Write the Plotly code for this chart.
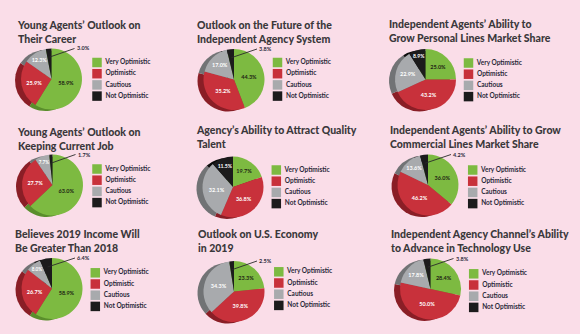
import math
import plotly.graph_objects as go

W, H = 580, 334

# ---------------- data ----------------
categories = ["Very Optimistic", "Optimistic", "Cautious", "Not Optimistic"]

titles = [
    "Young Agents’ Outlook on<br>Their Career",
    "Outlook on the Future of the<br>Independent Agency System",
    "Independent Agents’ Ability to<br>Grow Personal Lines Market Share",
    "Young Agents’ Outlook on<br>Keeping Current Job",
    "Agency’s Ability to Attract Quality<br>Talent",
    "Independent Agents’ Ability to Grow<br>Commercial Lines Market Share",
    "Believes 2019 Income Will<br>Be Greater Than 2018",
    "Outlook on U.S. Economy<br>in 2019",
    "Independent Agency Channel’s Ability<br>to Advance in Technology Use",
]

career = [58.9, 25.9, 12.3, 3.0]
future_system = [44.3, 35.2, 17.0, 3.8]
personal_lines = [25.0, 43.2, 22.9, 8.9]
keeping_job = [63.0, 27.7, 7.7, 1.7]
attract_talent = [19.7, 36.8, 32.1, 11.5]
commercial_lines = [36.0, 46.2, 13.6, 4.2]
income_2019 = [58.9, 26.7, 8.0, 6.4]
us_economy = [23.3, 39.8, 34.3, 2.5]
technology = [28.4, 50.0, 17.8, 3.8]

series = [career, future_system, personal_lines, keeping_job, attract_talent,
          commercial_lines, income_2019, us_economy, technology]

# ---------------- style / layout ----------------
BG = "#FADDE8"
colors = ["#7DBA41", "#C8313B", "#A8AAAD", "#1C1B1C"]
shade = ["#5A8E2C", "#8A1E26", "#717375", "#0C0C0C"]
label_colors = ["#1E2414", "white", "white", "white"]
TITLE_COLOR = "#3A383B"
TEXT_COLOR = "#2A2939"
FONT = "Lato"

R = 30.5          # pie radius (px)
SH_DX, SH_DY = -6, 1.5   # 3D side offset
SP = 11.2         # legend row spacing
SMALL = 7.0       # slices below this get an outside label with leader line

# title x, title top y, pie centre, legend square centre x, first-row centre y
panels = [
    dict(tx=15, ty=17, cx=51.5, cy=79, lx=97, ly=62.5),
    dict(tx=195, ty=17, cx=234, cy=79.5, lx=277.5, ly=62.5),
    dict(tx=387, ty=16, cx=425.5, cy=79.5, lx=468.5, ly=63),
    dict(tx=15, ty=124, cx=52.5, cy=185, lx=97, ly=169),
    dict(tx=194, ty=122, cx=233, cy=187, lx=276.3, ly=170),
    dict(tx=388, ty=122, cx=428, cy=185, lx=472.7, ly=170),
    dict(tx=13, ty=226, cx=52, cy=288.5, lx=95.3, ly=272.8),
    dict(tx=196, ty=226, cx=234, cy=291.5, lx=278.8, ly=271.8),
    dict(tx=389, ty=226, cx=430.5, cy=289, lx=473.7, ly=273.8),
]


def px_x(v):
    return v / W


def px_y(v):
    return 1 - v / H


fig = go.Figure()
annotations = []
layout_axes = {}

for i, (vals, title, p) in enumerate(zip(series, titles, panels)):
    cx, cy = p["cx"], p["cy"]

    # shadow (3D side)
    sx, sy = cx + SH_DX, cy + SH_DY
    fig.add_trace(go.Pie(
        values=vals, labels=categories, sort=False, direction="clockwise",
        marker=dict(colors=shade, line=dict(width=0)),
        textinfo="none", hoverinfo="skip", showlegend=False,
        domain=dict(x=[px_x(sx - R), px_x(sx + R)], y=[px_y(sy + R), px_y(sy - R)]),
    ))

    positions = ["inside" if v >= SMALL else "none" for v in vals]
    fig.add_trace(go.Pie(
        values=vals, labels=categories, sort=False, direction="clockwise",
        marker=dict(colors=colors, line=dict(width=0)),
        texttemplate="%{value:.1f}%", textposition=positions,
        insidetextorientation="horizontal",
        insidetextfont=dict(size=5.5, color=label_colors, family=FONT, weight="bold"),
        showlegend=False,
        domain=dict(x=[px_x(cx - R), px_x(cx + R)], y=[px_y(cy + R), px_y(cy - R)]),
    ))

    # outside labels with leader line for small slices
    total = sum(vals)
    cum = 0.0
    for v in vals:
        if v < SMALL:
            ang = math.radians((cum + v / 2) / total * 360)
            tipx = cx + 0.72 * R * math.sin(ang)
            tipy = cy - 0.72 * R * math.cos(ang)
            annotations.append(dict(
                x=px_x(tipx), y=px_y(tipy), xref="paper", yref="paper",
                text=f"{v:.1f}%", showarrow=True, arrowhead=0, arrowwidth=0.9,
                arrowcolor="#2A2A2A", ax=(cx + 23) - tipx, ay=(cy - 30.5) - tipy,
                xanchor="left", yanchor="middle", standoff=0,
                font=dict(size=5.5, color=TEXT_COLOR, family=FONT, weight="bold"),
            ))
        cum += v

    # title
    annotations.append(dict(
        x=px_x(p["tx"]), y=px_y(p["ty"]), xref="paper", yref="paper",
        text=title, showarrow=False, xanchor="left", yanchor="top", align="left",
        font=dict(size=10.5, color=TITLE_COLOR, family=FONT, weight=900),
    ))

    # legend drawn on its own small axis
    suffix = "" if i == 0 else str(i + 1)
    xa, ya = "x" + suffix, "y" + suffix
    lx, ly = p["lx"], p["ly"]
    fig.add_trace(go.Scatter(
        x=[0] * len(categories), y=categories, xaxis=xa, yaxis=ya,
        mode="markers+text", text=["\u00a0" + c for c in categories],
        textposition="middle right",
        marker=dict(symbol="square", size=9.5, color=colors, line=dict(width=0)),
        textfont=dict(size=6.5, color=TEXT_COLOR, family=FONT, weight="bold"),
        hoverinfo="skip", showlegend=False, cliponaxis=False,
    ))
    layout_axes["xaxis" + suffix] = dict(
        domain=[px_x(lx - 8), px_x(lx + 92)], range=[-8, 92], visible=False,
        fixedrange=True, anchor=ya)
    layout_axes["yaxis" + suffix] = dict(
        domain=[px_y(ly + 3.5 * SP), px_y(ly - 0.5 * SP)], range=[3.5, -0.5],
        type="category", categoryorder="array", categoryarray=categories,
        visible=False, fixedrange=True, anchor=xa)

fig.update_layout(
    width=W, height=H, margin=dict(l=0, r=0, t=0, b=0),
    paper_bgcolor=BG, plot_bgcolor="rgba(0,0,0,0)",
    annotations=annotations, showlegend=False,
    **layout_axes,
)

fig.write_html("out.html")
